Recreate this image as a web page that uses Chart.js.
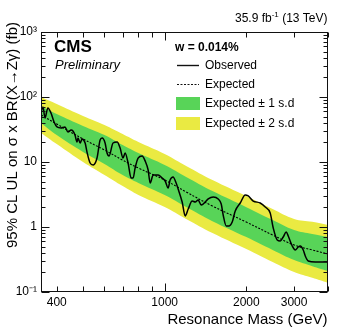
<!DOCTYPE html>
<html>
<head>
<meta charset="utf-8">
<script src="https://cdn.jsdelivr.net/npm/chart.js@4.4.1/dist/chart.umd.min.js"></script>
<style>
  html, body { margin: 0; padding: 0; background: #fff; }
  #wrap { width: 343px; height: 332px; }
</style>
</head>
<body>
<div id="wrap"><canvas id="c" width="343" height="332"></canvas></div>
<script>
/* global Chart */

// expected limit and its bands (fb)
const MASS_BAND = [350, 400, 500, 600, 700, 800, 1000, 1200, 1500, 2000, 2500, 3000, 3500, 4000];
const EXPECTED  = [52.9, 38.4, 22.6, 15.3, 10.7, 8.08, 5.28, 3.46, 2.10, 1.19, 0.753, 0.528, 0.443, 0.385];
const PLUS_1SD  = [72.7, 54.7, 35.8, 26.0, 18.2, 13.7, 8.98, 5.89, 3.57, 2.02, 1.28, 0.90, 0.78, 0.70];
const MINUS_1SD = [39.8, 26.0, 14.3, 9.32, 6.29, 4.75, 3.10, 2.03, 1.23, 0.70, 0.443, 0.31, 0.25, 0.21];
const PLUS_2SD  = [100, 78.0, 51.0, 37.1, 26.9, 20.3, 13.3, 8.69, 5.28, 2.99, 1.89, 1.33, 1.20, 1.076];
const MINUS_2SD = [28.0, 18.9, 10.0, 6.31, 4.26, 3.11, 2.03, 1.33, 0.807, 0.457, 0.289, 0.203, 0.165, 0.138];

// observed limit
const MASS_OBS = [350, 356, 362, 371, 381, 391, 401, 415, 429, 440, 452, 459, 467, 475, 479, 488, 496, 509, 517, 531,
  545, 563, 578, 588, 603, 613, 624, 645, 668, 685, 702, 715, 733, 752, 765, 778, 798, 826, 847, 869,
  884, 907, 946, 979, 1004, 1030, 1047, 1074, 1102, 1121, 1160, 1190, 1221, 1263, 1296, 1329, 1363, 1387, 1411, 1447,
  1510, 1575, 1616, 1643, 1686, 1729, 1774, 1820, 1899, 1981, 2032, 2120, 2250, 2348, 2449, 2513, 2599, 2667, 2735, 2806,
  2854, 2953, 3029, 3107, 3161, 3242, 3298, 3383, 3591, 4000];
const OBSERVED = [58.8, 70.2, 47.5, 67.7, 56.7, 41.3, 34.6, 33.4, 34.6, 28.9, 31.1, 30.0, 26.0, 20.3, 23.4, 19.6, 22.6, 19.6, 14.3, 9.65,
  8.99, 11.5, 21.8, 23.4, 19.6, 13.8, 12.4, 19.6, 20.3, 16.4, 11.5, 13.8, 9.65, 5.67, 5.67, 8.08, 11.5, 12.4, 10.4, 7.53,
  4.75, 6.31, 6.31, 5.67, 5.10, 3.98, 5.28, 5.88, 4.75, 3.84, 2.42, 1.48, 1.89, 2.51, 2.42, 2.60, 2.18, 2.26, 2.42, 2.70,
  2.89, 2.70, 2.26, 1.53, 1.04, 1.04, 1.19, 1.76, 2.34, 3.11, 3.00, 2.51, 2.34, 2.03, 1.64, 0.965, 0.631, 0.609, 0.702, 0.838,
  0.727, 0.510, 0.443, 0.492, 0.510, 0.443, 0.358, 0.300, 0.289, 0.289];

const X_LABELS = [400, 1000, 2000, 3000];
const X_TICKS = [400, 500, 600, 700, 800, 900, 1000, 2000, 3000, 4000];
const Y_EXP_LABELS = { "-1": "10⁻¹", "0": "1", "1": "10", "2": "10²", "3": "10³" };

const GREEN = "rgb(88, 212, 88)";
const YELLOW = "rgb(234, 234, 66)";
const FONT = "'Liberation Sans', Arial, sans-serif";

function pts(xs, ys) { return xs.map((x, i) => ({ x, y: ys[i] })); }

// text with a superscript piece, drawn right-aligned ending at x
function drawSupText(ctx, parts, x, y, size) {
  let w = 0;
  const items = parts.map(p => {
    const fs = p.sup ? Math.round(size * 0.7) : size;
    ctx.font = `${fs}px ${FONT}`;
    const iw = ctx.measureText(p.t).width;
    w += iw;
    return { ...p, fs, iw };
  });
  let cx = x - w;
  ctx.textAlign = "left";
  ctx.textBaseline = "alphabetic";
  items.forEach(it => {
    ctx.font = `${it.fs}px ${FONT}`;
    ctx.fillText(it.t, cx, it.sup ? y - size * 0.45 : y);
    cx += it.iw;
  });
}

const decorations = {
  id: "decorations",
  afterDraw(chart) {
    const { ctx, chartArea: a, scales } = chart;
    const xs = scales.x, ys = scales.y;
    const L = Math.round(a.left) + 0.5, R = Math.round(a.right) - 0.5;
    const T = Math.round(a.top) + 0.5, B = Math.round(a.bottom) - 0.5;
    ctx.save();
    ctx.strokeStyle = "#111";
    ctx.lineWidth = 1;
    ctx.strokeRect(L, T, R - L, B - T);

    // inward ticks
    ctx.beginPath();
    for (let e = -1; e <= 3; e++) {
      for (let k = 1; k <= 9; k++) {
        const v = k * Math.pow(10, e);
        if (v > 1000.0001) break;
        const py = Math.round(ys.getPixelForValue(v)) + 0.5;
        const len = k === 1 ? 8 : 4;
        ctx.moveTo(L, py); ctx.lineTo(L + len, py);
        ctx.moveTo(R, py); ctx.lineTo(R - len, py);
      }
    }
    X_TICKS.forEach(v => {
      const px = Math.round(xs.getPixelForValue(v)) + 0.5;
      const len = v === 1000 ? 8 : 5;
      ctx.moveTo(px, B); ctx.lineTo(px, B - len);
      ctx.moveTo(px, T); ctx.lineTo(px, T + len);
    });
    ctx.stroke();

    ctx.fillStyle = "#000";
    // axis titles
    ctx.font = `15px ${FONT}`;
    ctx.textAlign = "right";
    ctx.textBaseline = "alphabetic";
    ctx.fillText("Resonance Mass (GeV)", R, 324);
    ctx.save();
    ctx.translate(17, 22);
    ctx.rotate(-Math.PI / 2);
    ctx.fillText("95% CL UL on σ x BR(X→Zγ) (fb)", 0, 0);
    ctx.restore();

    // lumi label
    drawSupText(ctx, [{ t: "35.9 fb" }, { t: "-1", sup: true }, { t: " (13 TeV)" }], R, 22, 12);

    // CMS label
    ctx.textAlign = "left";
    ctx.font = `bold 17px ${FONT}`;
    ctx.fillText("CMS", 54, 52);
    ctx.font = `italic 13px ${FONT}`;
    ctx.fillText("Preliminary", 55, 69);

    // legend
    ctx.font = `bold 12px ${FONT}`;
    ctx.fillText("w = 0.014%", 175, 51);
    ctx.font = `12px ${FONT}`;
    ctx.textBaseline = "middle";
    ctx.lineWidth = 1.4;
    ctx.beginPath(); ctx.moveTo(177, 65.5); ctx.lineTo(199, 65.5); ctx.stroke();
    ctx.fillText("Observed", 205, 66);
    ctx.lineWidth = 1;
    ctx.setLineDash([2, 1.5]);
    ctx.beginPath(); ctx.moveTo(177, 84.5); ctx.lineTo(199, 84.5); ctx.stroke();
    ctx.setLineDash([]);
    ctx.fillText("Expected", 205, 85);
    ctx.fillStyle = GREEN;
    ctx.fillRect(176, 97, 24, 13);
    ctx.fillStyle = YELLOW;
    ctx.fillRect(176, 117, 24, 13);
    ctx.fillStyle = "#000";
    ctx.fillText("Expected ± 1 s.d", 205, 104);
    ctx.fillText("Expected ± 2 s.d", 205, 124);
    ctx.restore();
  }
};

const band = (data, color, fill) => ({
  data, borderWidth: 0, pointRadius: 0, tension: 0.4,
  backgroundColor: color, borderColor: color, fill
});

Chart.defaults.font.family = FONT;
Chart.defaults.color = "#000";

// datasets are drawn last-to-first, so lines come first in the list
new Chart(document.getElementById("c"), {
  type: "line",
  data: {
    datasets: [
      {
        label: "Observed", data: pts(MASS_OBS, OBSERVED),
        borderColor: "#000", borderWidth: 1.5, pointRadius: 0,
        cubicInterpolationMode: "monotone", fill: false
      },
      {
        label: "Expected", data: pts(MASS_BAND, EXPECTED),
        borderColor: "#000", borderWidth: 1.1, borderDash: [2, 1.5],
        pointRadius: 0, tension: 0.4, fill: false
      },
      band(pts(MASS_BAND, PLUS_1SD), GREEN, "+1"),
      band(pts(MASS_BAND, MINUS_1SD), GREEN, false),
      band(pts(MASS_BAND, PLUS_2SD), YELLOW, "+1"),
      band(pts(MASS_BAND, MINUS_2SD), YELLOW, false)
    ]
  },
  options: {
    responsive: false,
    devicePixelRatio: 1,
    animation: false,
    layout: { padding: { left: 0, right: 15, top: 32, bottom: 0 } },
    plugins: { legend: { display: false }, tooltip: { enabled: false } },
    scales: {
      x: {
        type: "logarithmic", min: 350, max: 4000,
        grid: { display: false, drawTicks: false },
        border: { display: false },
        afterFit: s => { s.height = 40; },
        ticks: {
          autoSkip: false, maxRotation: 0, padding: 3,
          font: { size: 12 },
          callback: v => (X_LABELS.includes(Math.round(v)) ? String(Math.round(v)) : "")
        }
      },
      y: {
        type: "logarithmic", min: 0.1, max: 1000,
        grid: { display: false, drawTicks: false },
        border: { display: false },
        afterFit: s => { s.width = 41; },
        ticks: {
          autoSkip: false, padding: 4,
          font: { size: 12 },
          callback: v => {
            const e = Math.log10(v);
            if (Math.abs(e - Math.round(e)) > 1e-6) return "";
            return Y_EXP_LABELS[String(Math.round(e))] ?? "";
          }
        }
      }
    }
  },
  plugins: [decorations]
});
</script>
</body>
</html>
